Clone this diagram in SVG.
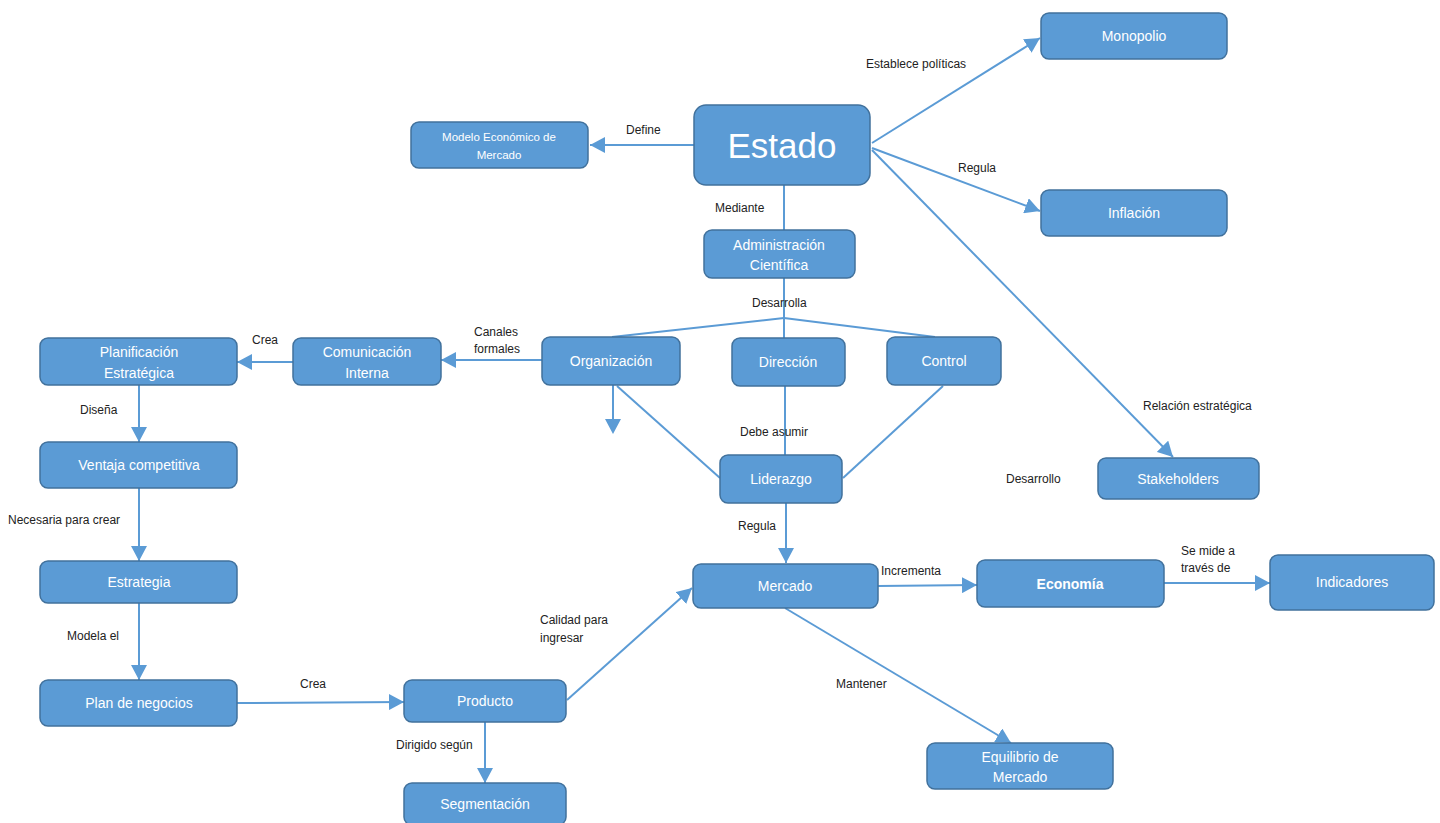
<svg xmlns="http://www.w3.org/2000/svg" width="1440" height="823" viewBox="0 0 1440 823">
<defs>
<marker id="arr" markerUnits="userSpaceOnUse" markerWidth="16" markerHeight="16" refX="15" refY="8" orient="auto">
<path d="M0,0 L15,8 L0,16 z" fill="#5B9BD5"/>
</marker>
<style>
.n rect{fill:#5B9BD5;stroke:#41719C;stroke-width:1.5}
.n text{fill:#fff;font-family:"Liberation Sans",Arial,sans-serif;font-size:14px;text-anchor:middle}
.c path{stroke:#5B9BD5;stroke-width:2;fill:none}
.c path.a{marker-end:url(#arr)}
.c polygon{fill:#5B9BD5}
.l{fill:#222;font-family:"Liberation Sans",Arial,sans-serif;font-size:12px}
</style>
</defs>
<rect width="1440" height="823" fill="#fff"/>
<g id="connectors" class="c">
<path class="a" d="M694,145 L590,145"/>
<path class="a" d="M872,143 L1040,38"/>
<path class="a" d="M872,148 L1040,211"/>
<path class="a" d="M872,150 L1173,457"/>
<path d="M784,185 L784,230"/>
<path d="M784,278 L784,338"/>
<path d="M784,318 L612,337"/>
<path d="M784,318 L935,337"/>
<path class="a" d="M542,360 L441,360"/>
<path class="a" d="M293,362 L237,362"/>
<path class="a" d="M139,385 L139,442"/>
<path class="a" d="M139,488 L139,561"/>
<path class="a" d="M139,603 L139,680"/>
<path class="a" d="M237,703 L404,702"/>
<path class="a" d="M485,722 L485,783"/>
<path class="a" d="M567,700 L692,588"/>
<path d="M613,385 L613,420"/>
<polygon points="605,419 621,419 613,434"/>
<path d="M617,386 L720,478"/>
<path d="M785,386 L785,455"/>
<path d="M943,386 L843,478"/>
<path class="a" d="M786,503 L786,563"/>
<path class="a" d="M878,586 L977,585"/>
<path class="a" d="M1164,583 L1270,583"/>
<path class="a" d="M785,608 L1011,743"/>
</g>
<g id="labels">
<text class="l" x="626" y="134">Define</text>
<text class="l" x="866" y="68">Establece políticas</text>
<text class="l" x="958" y="172">Regula</text>
<text class="l" x="1143" y="410">Relación estratégica</text>
<text class="l" x="1006" y="483">Desarrollo</text>
<text class="l" x="715" y="212">Mediante</text>
<text class="l" x="752" y="307">Desarrolla</text>
<text class="l" x="474" y="336">Canales</text>
<text class="l" x="474" y="353">formales</text>
<text class="l" x="252" y="344">Crea</text>
<text class="l" x="80" y="414">Diseña</text>
<text class="l" x="8" y="524">Necesaria para crear</text>
<text class="l" x="67" y="640">Modela el</text>
<text class="l" x="300" y="688">Crea</text>
<text class="l" x="396" y="749">Dirigido según</text>
<text class="l" x="540" y="624">Calidad para</text>
<text class="l" x="540" y="642">ingresar</text>
<text class="l" x="740" y="436">Debe asumir</text>
<text class="l" x="738" y="530">Regula</text>
<text class="l" x="881" y="575">Incrementa</text>
<text class="l" x="1181" y="555">Se mide a</text>
<text class="l" x="1181" y="572">través de</text>
<text class="l" x="836" y="688">Mantener</text>
</g>
<g id="estado" class="n"><rect x="694" y="105" width="176" height="80" rx="12"/><text x="782" y="158" style="font-size:35px">Estado</text></g>
<g id="modelo" class="n"><rect x="411" y="122" width="177" height="46" rx="8"/><text x="499" y="141" style="font-size:11.5px">Modelo Económico de</text><text x="499" y="159" style="font-size:11.5px">Mercado</text></g>
<g id="monopolio" class="n"><rect x="1041" y="13" width="186" height="46" rx="8"/><text x="1134" y="41">Monopolio</text></g>
<g id="inflacion" class="n"><rect x="1041" y="190" width="186" height="46" rx="8"/><text x="1134" y="218">Inflación</text></g>
<g id="admin" class="n"><rect x="704" y="230" width="151" height="48" rx="8"/><text x="779" y="250">Administración</text><text x="779" y="270">Científica</text></g>
<g id="organizacion" class="n"><rect x="542" y="337" width="138" height="48" rx="8"/><text x="611" y="366">Organización</text></g>
<g id="direccion" class="n"><rect x="732" y="338" width="113" height="48" rx="8"/><text x="788" y="367">Dirección</text></g>
<g id="control" class="n"><rect x="887" y="337" width="114" height="48" rx="8"/><text x="944" y="366">Control</text></g>
<g id="comunicacion" class="n"><rect x="293" y="338" width="148" height="47" rx="8"/><text x="367" y="357">Comunicación</text><text x="367" y="378">Interna</text></g>
<g id="planificacion" class="n"><rect x="40" y="338" width="197" height="47" rx="8"/><text x="139" y="357">Planificación</text><text x="139" y="378">Estratégica</text></g>
<g id="ventaja" class="n"><rect x="40" y="442" width="197" height="46" rx="8"/><text x="139" y="470">Ventaja competitiva</text></g>
<g id="estrategia" class="n"><rect x="40" y="561" width="197" height="42" rx="8"/><text x="139" y="587">Estrategia</text></g>
<g id="plan" class="n"><rect x="40" y="680" width="197" height="46" rx="8"/><text x="139" y="708">Plan de negocios</text></g>
<g id="producto" class="n"><rect x="404" y="680" width="162" height="42" rx="8"/><text x="485" y="706">Producto</text></g>
<g id="segmentacion" class="n"><rect x="404" y="783" width="162" height="42" rx="8"/><text x="485" y="809">Segmentación</text></g>
<g id="liderazgo" class="n"><rect x="720" y="455" width="122" height="48" rx="8"/><text x="781" y="484">Liderazgo</text></g>
<g id="stakeholders" class="n"><rect x="1098" y="458" width="161" height="41" rx="8"/><text x="1178" y="484">Stakeholders</text></g>
<g id="mercado" class="n"><rect x="693" y="564" width="185" height="44" rx="8"/><text x="785" y="591">Mercado</text></g>
<g id="economia" class="n"><rect x="977" y="560" width="187" height="47" rx="8"/><text x="1070" y="589" style="font-weight:bold">Economía</text></g>
<g id="indicadores" class="n"><rect x="1270" y="555" width="164" height="55" rx="8"/><text x="1352" y="587">Indicadores</text></g>
<g id="equilibrio" class="n"><rect x="927" y="743" width="186" height="46" rx="8"/><text x="1020" y="762">Equilibrio de</text><text x="1020" y="782">Mercado</text></g>
</svg>
